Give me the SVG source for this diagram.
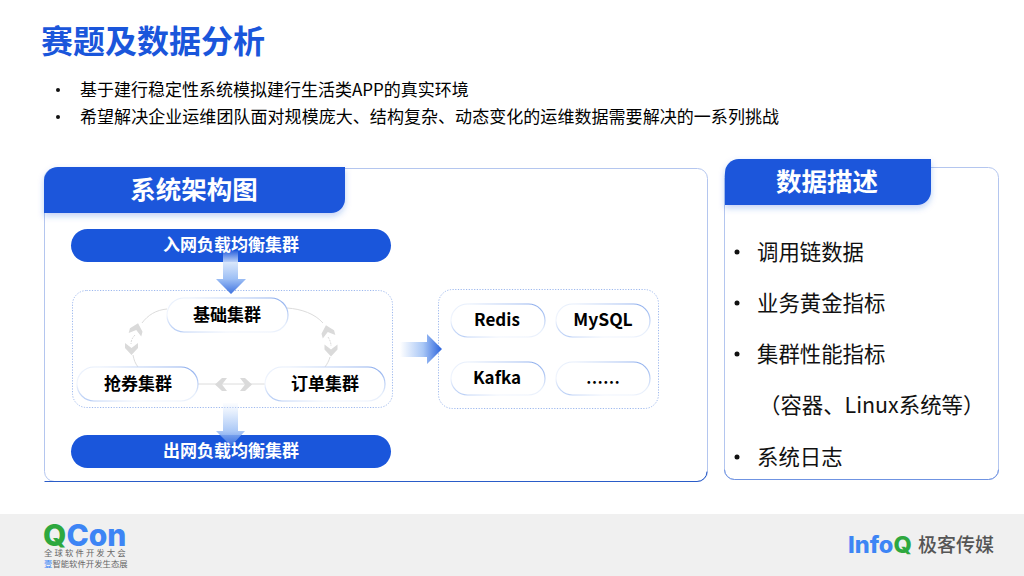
<svg xmlns="http://www.w3.org/2000/svg" width="1024" height="576" viewBox="0 0 1024 576">
<style>
text{font-family:"Noto Sans CJK SC","Noto Sans",sans-serif}
.t{font-size:17px;fill:#000}
.b{font-weight:700;text-anchor:middle}
.w{fill:#fff}
.h{font-size:25.500px;font-weight:700;fill:#fff;text-anchor:middle}
.r{font-size:21.400px;fill:#111}
.pill{fill:#fff;stroke:url(#ps);stroke-width:1.200}
.acc{fill:none;stroke:url(#ac);stroke-width:1.400}
.box{fill:#fff;stroke:#9db8ee;stroke-width:1;stroke-dasharray:1.200 1.500}
.bar{fill:#1a56db}
.cn{fill:none;stroke:#dcdcdc;stroke-width:1}
.ch{fill:#dadada}
.ft{font-size:8.400px;fill:#666}
.logo{font-family:Inter,sans-serif;font-weight:800}
</style>
<defs>
<linearGradient id="ps" x1="0" y1="1" x2="1" y2="0"><stop offset="0" stop-color="#a7c2f3"/><stop offset=".25" stop-color="#f1f5fd"/><stop offset=".6" stop-color="#e6eefb"/><stop offset=".85" stop-color="#a9c2f2"/><stop offset="1" stop-color="#7fa3ea"/></linearGradient>
<linearGradient id="ac" x1="0" x2="1" y1="0" y2="0"><stop offset="0" stop-color="#a9c2f2"/><stop offset=".45" stop-color="#3f73e0"/><stop offset="1" stop-color="#fff"/></linearGradient>
<linearGradient id="dn" x1="0" x2="0" y1="0" y2="1"><stop offset="0" stop-color="#dbe8fc" stop-opacity=".1"/><stop offset=".3" stop-color="#d3e3fb"/><stop offset=".65" stop-color="#9dbff5"/><stop offset="1" stop-color="#3f73e0"/></linearGradient>
<linearGradient id="rt" x1="0" x2="1" y1="0" y2="0"><stop offset="0" stop-color="#fff"/><stop offset=".55" stop-color="#a9c7f6"/><stop offset="1" stop-color="#2a62dc"/></linearGradient>
<filter id="sh" x="-10%" y="-10%" width="120%" height="130%"><feDropShadow dx="0" dy="3" stdDeviation="3" flood-color="#1a56db" flood-opacity=".28"/></filter>
<path id="chev" class="ch" d="M0-6L6.500 1V6L0 1L-6.500 6V1Z"/>
</defs>
<rect width="1024" height="576" fill="#fff"/>
<text x="41" y="53" font-size="32" font-weight="700" fill="#1a56db">赛题及数据分析</text>
<g id="intro">
<circle cx="58" cy="90" r="2" fill="#111"/>
<text class="t" x="80" y="96">基于建行稳定性系统模拟建行生活类APP的真实环境</text>
<circle cx="58" cy="117" r="2" fill="#111"/>
<text class="t" x="80" y="123" letter-spacing=".05">希望解决企业运维团队面对规模庞大、结构复杂、动态变化的运维数据需要解决的一系列挑战</text>
</g>
<g id="panel-arch">
<rect x="44.500" y="168.500" width="663" height="313" rx="10" fill="#fff" stroke="#b4c6ef"/>
<path d="M44.500 481.500H697a10 10 0 0 0 10-10" fill="none" stroke="#2a5cc8"/>
<path class="bar" filter="url(#sh)" d="M44 213V181a14 14 0 0 1 14-14H345V199a14 14 0 0 1-14 14Z"/>
<text class="h" x="194" y="199">系统架构图</text>
</g>
<g id="panel-data">
<rect x="724.500" y="167.500" width="274" height="312" rx="10" fill="#fff" stroke="#b4c6ef"/>
<path d="M724.500 469.500a10 10 0 0 0 10 10H988.500a10 10 0 0 0 10-10" fill="none" stroke="#6f93e2"/>
<path class="bar" filter="url(#sh)" d="M725 205V173a14 14 0 0 1 14-14H931V191a14 14 0 0 1-14 14Z"/>
<text class="h" x="827" y="191">数据描述</text>
<circle cx="737" cy="252" r="2.500" fill="#111"/><text class="r" x="757" y="260">调用链数据</text>
<circle cx="737" cy="303" r="2.500" fill="#111"/><text class="r" x="757" y="311">业务黄金指标</text>
<circle cx="737" cy="354" r="2.500" fill="#111"/><text class="r" x="757" y="362">集群性能指标</text>
<text class="r" x="759" y="413">（容器、Linux系统等）</text>
<circle cx="737" cy="457" r="2.500" fill="#111"/><text class="r" x="757" y="465">系统日志</text>
</g>
<g id="box-cluster"><rect class="box" x="72.500" y="290.500" width="320" height="117" rx="14"/></g>
<g id="box-mw"><rect class="box" x="438.500" y="289.500" width="220" height="119" rx="14"/></g>
<g id="lb-in"><rect class="bar" x="71" y="229" width="320" height="33" rx="16.500"/><text class="t b w" x="231" y="251">入网负载均衡集群</text></g>
<g id="lb-out"><rect class="bar" x="71" y="435" width="320" height="33" rx="16.500"/></g>
<g id="connectors">
<path class="cn" d="M167 309C156 310 148 315 142 323"/>
<path class="cn" d="M287 308C302 309 315 314 323 323"/>
<path class="cn" d="M135 335C132 338 131 341 131 344" stroke-dasharray="2 1"/>
<path class="cn" d="M328 337C330 340 331 343 331 346" stroke-dasharray="2 1"/>
<path class="cn" d="M133 355C134 360 135 363 138 367"/>
<path class="cn" d="M330 357C329 361 327 364 325 367"/>
<path class="cn" d="M198 384H265"/>
<use href="#chev" transform="translate(136.500 329) rotate(15)"/>
<use href="#chev" transform="translate(131.500 349) rotate(180)"/>
<use href="#chev" transform="translate(327.500 331) rotate(-15)"/>
<use href="#chev" transform="translate(331 350.500) rotate(180)"/>
<use href="#chev" transform="translate(221 384.500) rotate(-90)"/>
<use href="#chev" transform="translate(246 384.500) rotate(90)"/>
<path fill="url(#dn)" d="M223 251H238V279H246L231 294L216 279H223Z"/>
<path fill="url(#dn)" fill-opacity=".85" d="M223 403H238V431H245L231 446L216 431H223Z"/>
<path fill="url(#rt)" d="M400 342H427V334L442 349L427 364V357H400Z"/>
</g>
<g id="lb-out-label"><text class="t b w" x="231" y="457">出网负载均衡集群</text></g>
<g id="n-base"><rect class="pill" x="167" y="298" width="121" height="34" rx="17"/><path class="acc" d="M184 332H268"/><text class="t b" x="227" y="321">基础集群</text></g>
<g id="n-coupon"><rect class="pill" x="77" y="367" width="121" height="34" rx="17"/><path class="acc" d="M94 401H178"/><text class="t b" x="138" y="390">抢券集群</text></g>
<g id="n-order"><rect class="pill" x="265" y="367" width="120" height="34" rx="17"/><path class="acc" d="M282 401H366"/><text class="t b" x="325" y="390">订单集群</text></g>
<g id="n-redis"><rect class="pill" x="451" y="304" width="94" height="33" rx="16.500"/><path class="acc" d="M467 337H525"/><text class="t b" x="497" y="326">Redis</text></g>
<g id="n-mysql"><rect class="pill" x="556" y="304" width="94" height="33" rx="16.500"/><path class="acc" d="M572 337H630"/><text class="t b" x="603" y="326" font-size="17.500" style="font-size:17.500px">MySQL</text></g>
<g id="n-kafka"><rect class="pill" x="451" y="362" width="94" height="33" rx="16.500"/><path class="acc" d="M467 395H525"/><text class="t b" x="497" y="384">Kafka</text></g>
<g id="n-more"><rect class="pill" x="556" y="362" width="94" height="33" rx="16.500"/><path class="acc" d="M572 395H630"/><text class="t b" x="603" y="389">……</text></g>
<g id="footer">
<rect y="514" width="1024" height="62" fill="#f0f0f0"/>
<text class="logo" x="43" y="545.500" font-size="30" fill="#2ea83f">Q<tspan fill="#3d85f5">Con</tspan></text>
<text class="ft" x="44" y="556" letter-spacing="2.100">全球软件开发大会</text>
<text class="ft" x="44" y="567"><tspan fill="#3d85f5">壹</tspan>智能软件开发生态展</text>
<text class="logo" x="848" y="553" font-size="23.500" fill="#3d85f5">Info<tspan fill="#2ea83f">Q</tspan></text>
<text x="918" y="552" font-size="19" font-weight="500" fill="#555">极客传媒</text>
</g>
</svg>
